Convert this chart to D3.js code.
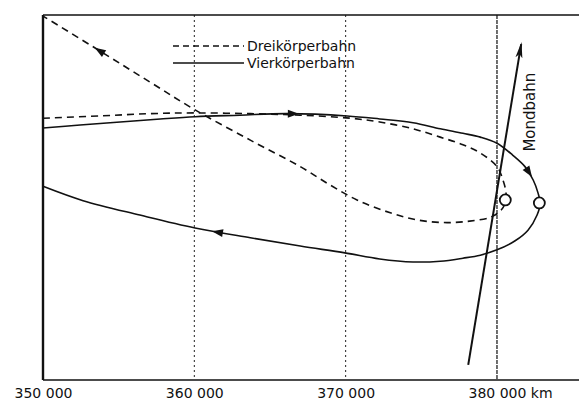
<!DOCTYPE html>
<html>
<head>
<meta charset="utf-8">
<script src="https://cdn.jsdelivr.net/npm/d3@7"></script>
<style>
  body { margin: 0; background: #fff; }
  text { font-family: "DejaVu Sans", sans-serif; fill: #111; }
</style>
</head>
<body>
<svg width="579" height="403"></svg>
<script>
// x ticks (km from earth) and their labels
const xTicks = [350000, 360000, 370000, 380000];
const xTickLabels = ["350 000", "360 000", "370 000", "380 000 km"];
const gridTicks = [360000, 370000, 380000];

// Dreikörperbahn (three-body orbit), [x km, y km], in travel order
const dreiBahn = [
  [350000, 17300], [353750, 17450], [357050, 17600], [360050, 17650],
  [363700, 17600], [367000, 17500], [370300, 17300], [372250, 17050],
  [374450, 16600], [376250, 16050], [377750, 15550], [378900, 15000],
  [380000, 14100], [380400, 13200], [380600, 12350], [380550, 11700],
  [380200, 11150], [379550, 10750], [378200, 10500], [376700, 10400],
  [374900, 10550], [372950, 11050], [370750, 11900], [368950, 12900],
  [367000, 14100], [363700, 15850], [360050, 17850], [357050, 19700],
  [353750, 21750], [350000, 24050]
];

// Vierkörperbahn (four-body orbit)
const vierBahn = [
  [350000, 16650], [352450, 16850], [355100, 17050], [357750, 17250],
  [360050, 17400], [363000, 17500], [366100, 17600], [370100, 17450],
  [372250, 17250], [374450, 17000], [376250, 16600], [377750, 16300],
  [378900, 16050], [380000, 15650], [381050, 14850], [381850, 14100],
  [382400, 13200], [382700, 12400], [382850, 11700], [382650, 10900],
  [382050, 9900], [381200, 9200], [380000, 8600], [378900, 8250],
  [377750, 8050], [376250, 7850], [374450, 7800], [372250, 8000],
  [369950, 8400], [367000, 8850], [363700, 9400], [360050, 10050],
  [356400, 10900], [352650, 11850], [350000, 12800]
];

// Mondbahn (moon track), start and end
const mondBahn = [[378100, 1000], [381600, 22200]];

// moon positions (small circles)
const mondPunkte = [[380550, 11900], [382800, 11700]];

// arrows: fraction along each orbit
const dreiPfeile = [0.935];
const vierPfeile = [0.235, 0.47, 0.83];

const legendItems = ["Dreikörperbahn", "Vierkörperbahn"];

const svg = d3.select("svg");
const width = +svg.attr("width");
const height = +svg.attr("height");
const margin = { top: 15, bottom: 23, left: 43, right: 0 };

const x = d3.scaleLinear()
  .domain([350000, 385420])
  .range([margin.left, width - margin.right]);
const y = d3.scaleLinear()
  .domain([0, 24120])
  .range([height - margin.bottom, margin.top]);

// grid
svg.append("g")
  .selectAll("line")
  .data(gridTicks)
  .join("line")
    .attr("x1", d => x(d)).attr("x2", d => x(d))
    .attr("y1", y(24120)).attr("y2", y(0))
    .attr("stroke", "#222")
    .attr("stroke-width", d => d === 380000 ? 1.3 : 1)
    .attr("stroke-dasharray", d => d === 380000 ? "4,1" : "2,3");

// frame: top and left
svg.append("line")
  .attr("x1", x(350000)).attr("x2", width)
  .attr("y1", y(24120)).attr("y2", y(24120))
  .attr("stroke", "#111").attr("stroke-width", 1.6);
svg.append("line")
  .attr("x1", x(350000)).attr("x2", x(350000))
  .attr("y1", y(24120)).attr("y2", y(0))
  .attr("stroke", "#111").attr("stroke-width", 2.4);

// bottom axis
const gx = svg.append("g")
  .attr("transform", `translate(0,${y(0)})`)
  .call(d3.axisBottom(x).tickValues(xTicks).tickSize(0).tickPadding(8)
    .tickFormat((d, i) => xTickLabels[i]));
gx.select(".domain").attr("stroke", "#111").attr("stroke-width", 1.6)
  .attr("d", `M${x(350000)},0H${width}`);
gx.selectAll("text")
  .attr("font-family", "DejaVu Sans, sans-serif")
  .attr("font-size", 14)
  .attr("fill", "#111");
gx.selectAll(".tick").filter((d, i) => i === xTicks.length - 1)
  .select("text").attr("text-anchor", "start").attr("x", -29);

const line = d3.line()
  .x(d => x(d[0]))
  .y(d => y(d[1]))
  .curve(d3.curveCatmullRom.alpha(0.5));

const pathDrei = svg.append("path")
  .datum(dreiBahn)
  .attr("fill", "none")
  .attr("stroke", "#111")
  .attr("stroke-width", 1.6)
  .attr("stroke-dasharray", "7,5")
  .attr("d", line);

const pathVier = svg.append("path")
  .datum(vierBahn)
  .attr("fill", "none")
  .attr("stroke", "#111")
  .attr("stroke-width", 1.6)
  .attr("d", line);

// moon track with arrow head
svg.append("defs").append("marker")
  .attr("id", "mondPfeil")
  .attr("viewBox", "0 -4 16 8")
  .attr("refX", 14).attr("refY", 0)
  .attr("markerWidth", 16).attr("markerHeight", 8)
  .attr("markerUnits", "userSpaceOnUse")
  .attr("orient", "auto")
  .append("path")
    .attr("d", "M0,-3.5L16,0L0,3.5L4,0Z")
    .attr("fill", "#111");

svg.append("path")
  .datum(mondBahn)
  .attr("fill", "none")
  .attr("stroke", "#111")
  .attr("stroke-width", 2)
  .attr("marker-end", "url(#mondPfeil)")
  .attr("d", d3.line().x(d => x(d[0])).y(d => y(d[1])));

svg.append("text")
  .attr("transform", `translate(${x(382400) + 2},${y(17700)}) rotate(-90)`)
  .attr("text-anchor", "middle")
  .attr("font-size", 15)
  .text("Mondbahn");

svg.selectAll("circle.mond")
  .data(mondPunkte)
  .join("circle")
    .attr("class", "mond")
    .attr("cx", d => x(d[0]))
    .attr("cy", d => y(d[1]))
    .attr("r", 5.5)
    .attr("fill", "#fff")
    .attr("stroke", "#111")
    .attr("stroke-width", 1.8);

// direction arrows along the orbits
function addArrows(path, fractions) {
  const node = path.node();
  const L = node.getTotalLength();
  fractions.forEach(t => {
    const p = node.getPointAtLength(L * t);
    const q = node.getPointAtLength(L * t - 2);
    const ang = Math.atan2(p.y - q.y, p.x - q.x) * 180 / Math.PI;
    svg.append("path")
      .attr("d", "M6,0L-5,-4L-5,4Z")
      .attr("fill", "#111")
      .attr("transform", `translate(${p.x},${p.y}) rotate(${ang})`);
  });
}
addArrows(pathDrei, dreiPfeile);
addArrows(pathVier, vierPfeile);

// legend
const legend = svg.append("g").attr("transform", "translate(173,46)");
legendItems.forEach((name, i) => {
  const g = legend.append("g").attr("transform", `translate(0,${i * 17})`);
  g.append("line")
    .attr("x1", 0).attr("x2", 71)
    .attr("stroke", "#111")
    .attr("stroke-width", 1.5)
    .attr("stroke-dasharray", i === 0 ? "6,4" : null);
  g.append("text")
    .attr("x", 74).attr("y", 5)
    .attr("font-size", 14)
    .text(name);
});
</script>
</body>
</html>
